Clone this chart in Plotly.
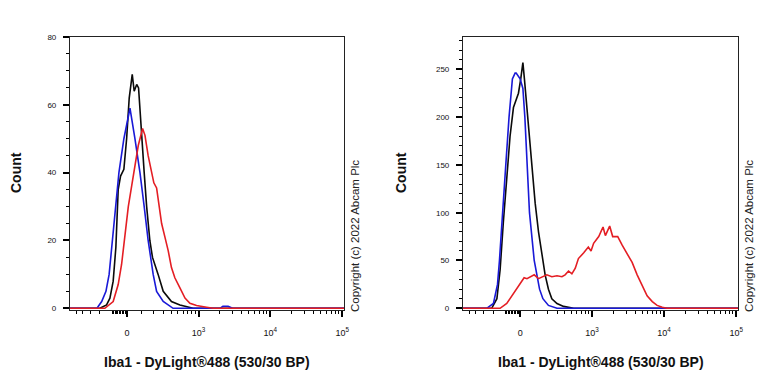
import numpy as np
import plotly.graph_objects as go

# ---------------- data (fluorescence intensity, count) ----------------
# Left panel
L_blue_x = [-700, -228, -184, -148, -123, -97, -53, -20, 20, 53, 88, 119, 150, 193, 225, 295, 425, 600,
            2000, 2200, 2600, 3000, 110000]
L_blue_y = [0, 0, 2, 5, 10, 20, 40, 50, 59, 50, 40, 30, 20, 10, 5, 2, 0, 0,
            0, 0.6, 0.6, 0, 0]

L_black_x = [-700, -200, -143, -117, -93, -74, -58, -42, -20, -2, 15, 35, 48, 65, 78, 92, 107, 119, 138,
             164, 187, 208, 240, 295, 401, 539, 836, 110000]
L_black_y = [0, 0, 1, 3, 8, 18, 35, 39, 41, 50, 62, 69, 64, 66, 65, 55, 45, 40, 30,
             20, 15, 13, 10, 5, 2, 1, 0, 0]

L_red_x = [-700, -157, -93, -58, -35, -13, 9, 31, 53, 76, 107, 125, 150, 178, 199, 225, 251, 277, 315,
           356, 401, 452, 539, 640, 754, 938, 1300, 1610, 110000]
L_red_y = [0, 0, 2, 7, 13, 22, 30, 36, 42, 48, 53, 51, 45, 40, 37, 35.5, 30, 25, 21,
           17, 12, 9, 6, 3, 1.5, 0.8, 0.3, 0, 0]

# Right panel
R_blue_x = [-700, -262, -196, -161, -145, -123, -97, -74, -51, -33, -26, 0, 18, 31, 47, 62, 95, 135, 162,
            211, 300, 110000]
R_blue_y = [0, 0, 5, 25, 50, 100, 150, 200, 240, 246, 246, 240, 230, 200, 150, 100, 50, 20, 10,
            3, 0, 0]

R_black_x = [-700, -212, -166, -140, -115, -90, -67, -44, -22, -11, 4, 18, 28, 45, 67, 85, 102, 127, 154,
             181, 211, 244, 300, 383, 545, 110000]
R_black_y = [0, 0, 10, 40, 90, 140, 180, 210, 220, 225, 240, 257, 240, 210, 165, 140, 110, 80, 55,
             35, 20, 10, 5, 2, 0, 0]

R_red_x = [-700, -140, -90, -44, 0, 26, 45, 67, 95, 127, 166, 196, 244, 300, 361, 405, 457, 513, 576,
           640, 764, 888, 970, 1055, 1245, 1430, 1542, 1770, 1950, 2290, 2640, 3100, 3630, 4260,
           5000, 5850, 6900, 8050, 9470, 11100, 110000]
R_red_y = [0, 0, 5, 15, 25, 32, 31, 33, 35, 31, 33, 35, 33, 34, 33, 35, 39, 36, 42,
           52, 58, 64, 60, 68, 75, 85, 76, 86, 75, 75, 66, 57, 48, 35,
           23, 13, 7, 3, 1, 0, 0]

# axis ticks (intensity units)
major_ticks = [0, 1000, 10000, 100000]
major_labels = ["0", "10<sup>3</sup>", "10<sup>4</sup>", "10<sup>5</sup>"]
minor_ticks = ([-500, -400, -300, -200, -100] + list(range(-90, 0, 10)) +
               list(range(100, 1000, 100)) + list(range(2000, 10000, 1000)) +
               list(range(20000, 100000, 10000)))

x_title = "Iba1 - DyLight®488 (530/30 BP)"
y_title = "Count"
copyright_text = "Copyright (c) 2022 Abcam Plc"

# ---------------- biexponential-like display scale ----------------
COF = 205.0


def biex(v):
    return np.arcsinh(np.asarray(v, dtype=float) / COF)


# the page body adds an 8px margin, so the figure is drawn 8px in from the window corner
OFF = 8
W, H = 768 - OFF, 384 - OFF


def fx(px):
    return (px - OFF) / W


def fy(py):
    return 1 - (py - OFF) / H


FONT = "Liberation Sans, Arial, sans-serif"
BLUE = "rgb(25,25,215)"
BLACK = "rgb(10,10,10)"
RED = "rgb(228,30,36)"

fig = go.Figure()


def add(x, y, color, xa, ya):
    fig.add_trace(go.Scatter(x=biex(x), y=y, mode="lines", line=dict(color=color, width=1.6),
                             xaxis=xa, yaxis=ya, showlegend=False, hoverinfo="skip"))


add(L_black_x, L_black_y, BLACK, "x", "y")
add(L_blue_x, L_blue_y, BLUE, "x", "y")
add(L_red_x, L_red_y, RED, "x", "y")
add(R_black_x, R_black_y, BLACK, "x2", "y2")
add(R_blue_x, R_blue_y, BLUE, "x2", "y2")
add(R_red_x, R_red_y, RED, "x2", "y2")

ydom = [fy(310), fy(37)]
xrange = [-1.82, 6.94]

xcommon = dict(
    range=xrange, tickmode="array", tickvals=biex(major_ticks), ticktext=major_labels,
    ticks="outside", ticklen=6, tickwidth=1.5, tickcolor="black",
    minor=dict(tickmode="array", tickvals=biex(minor_ticks), ticks="outside", ticklen=3,
               tickwidth=1, tickcolor="black", showgrid=False),
    showline=True, linecolor="#222", linewidth=1, mirror=True, showgrid=False, zeroline=False,
    tickfont=dict(family=FONT, size=9, color="#111"), ticklabelstandoff=8, automargin=False,
)
ycommon = dict(
    ticks="outside", ticklen=6, tickwidth=1.5, tickcolor="black",
    showline=True, linecolor="#222", linewidth=1.2, mirror=True, showgrid=False, zeroline=False,
    tickfont=dict(family=FONT, size=8, color="#111"), ticklabelstandoff=5, domain=ydom,
    automargin=False,
)

fig.update_layout(
    template="none",
    width=W, height=H, margin=dict(l=0, r=0, t=0, b=0, autoexpand=False),
    paper_bgcolor="white", plot_bgcolor="white",
    xaxis=dict(domain=[fx(70), fx(344)], anchor="y", **xcommon),
    xaxis2=dict(domain=[fx(463), fx(738)], anchor="y2", **xcommon),
    yaxis=dict(range=[-0.5, 80], tickvals=[0, 20, 40, 60, 80], anchor="x",
               minor=dict(dtick=5, tick0=0, ticks="outside", ticklen=3, tickwidth=1, tickcolor="black"),
               **ycommon),
    yaxis2=dict(range=[-1.8, 283.8], tickvals=[0, 50, 100, 150, 200, 250], anchor="x2",
                minor=dict(dtick=10, tick0=0, ticks="outside", ticklen=3, tickwidth=1, tickcolor="black"),
                **ycommon),
)

ann = dict(xref="paper", yref="paper", showarrow=False, xanchor="center", yanchor="middle")
for cx in (16, 401):
    fig.add_annotation(x=fx(cx), y=fy(173), text="<b>" + y_title + "</b>", textangle=-90,
                       font=dict(family=FONT, size=14, color="#111"), **ann)
for cx in (355, 749):
    fig.add_annotation(x=fx(cx), y=fy(236), text=copyright_text, textangle=-90,
                       font=dict(family=FONT, size=11.5, color="#222"), **ann)
for cx in (207, 601):
    fig.add_annotation(x=fx(cx), y=fy(362), text="<b>" + x_title + "</b>",
                       font=dict(family=FONT, size=14, color="#111"), **ann)

fig.write_html("out.html")
